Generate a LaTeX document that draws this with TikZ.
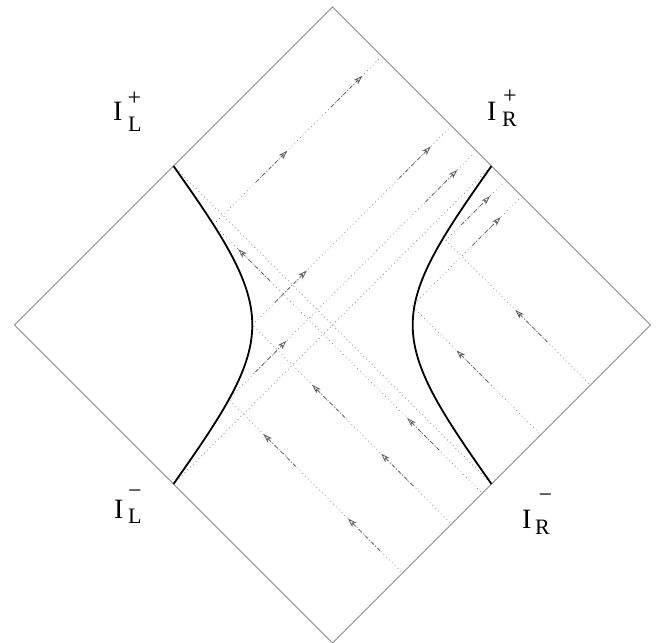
\documentclass[tikz,border=0pt]{standalone}
\usepackage{fontspec}
\setmainfont{Liberation Serif}
\usetikzlibrary{arrows.meta}
\begin{document}
\begin{tikzpicture}[x=1pt,y=1pt,
  frame/.style={draw=black!45, line width=0.9pt},
  world/.style={draw=black, line width=1.8pt},
  ray/.style={draw=black!50, line width=0.75pt, dash pattern=on 0.75pt off 3.2pt},
  arr/.style={draw=black!65, line width=0.75pt, dash pattern=on 4pt off 2pt on 0.75pt off 2pt,
    -{Stealth[open, length=9pt, width=6pt, inset=2.5pt]}},
  big/.style={inner sep=0pt, font=\fontsize{28}{30}\selectfont},
  small/.style={inner sep=0pt, font=\fontsize{22}{24}\selectfont},
  sign/.style={inner sep=0pt, font=\fontsize{24}{26}\selectfont}]
\useasboundingbox (-332.5,-318) rectangle (332.5,325);
\begin{scope}[x={(159pt,-159pt)}, y={(159pt,159pt)}]
  % diamond (s,t null coordinates)
  \coordinate (top) at (-1,1);
  \coordinate (right) at (1,1);
  \coordinate (bottom) at (1,-1);
  \coordinate (left) at (-1,-1);
  \draw[frame] (top) -- (right) -- (bottom) -- (left) -- cycle;
  % horizons
  \coordinate (hL1) at (-1,0); \coordinate (hL2) at (1,0);
  \coordinate (hS1) at (0,-1); \coordinate (hS2) at (0,1);
  \draw[ray] (hL1) -- (hL2);
  \draw[ray] (hS1) -- (hS2);
  % reflection points on the worldlines
  \coordinate (P1) at (-0.69,-0.058);
  \coordinate (P2) at (-0.252,-0.252);
  \coordinate (P3) at (-0.095,-0.56);
  \coordinate (P4) at (0.19,0.31);
  \coordinate (P5) at (0.09,0.622);
  % outgoing (up-right) rays
  \coordinate (A1) at (-0.69,0.985);
  \coordinate (B1) at (-0.252,0.985);
  \coordinate (C1) at (-0.095,0.985);
  \coordinate (E1) at (0.09,0.985);
  \coordinate (F1) at (0.19,0.985);
  \draw[ray] (P1) -- (A1);
  \draw[ray] (P2) -- (B1);
  \draw[ray] (P3) -- (C1);
  \draw[ray] (P5) -- (E1);
  \draw[ray] (P4) -- (F1);
  % incoming (up-left) rays
  \coordinate (a0) at (0.99,-0.56);
  \coordinate (b0) at (0.99,-0.252);
  \coordinate (c0) at (0.99,-0.058);
  \coordinate (d0) at (0.99,0.31);
  \coordinate (e0) at (0.99,0.622);
  \draw[ray] (a0) -- (P3);
  \draw[ray] (b0) -- (P2);
  \draw[ray] (c0) -- (P1);
  \draw[ray] (d0) -- (P4);
  \draw[ray] (e0) -- (P5);
  % arrows on up-right rays
  \draw[arr] (-0.69,0.21) -- (-0.69,0.405);
  \draw[arr] (-0.69,0.68) -- (-0.69,0.877);
  \draw[arr] (-0.252,-0.11) -- (-0.252,0.09);
  \draw[arr] (-0.252,0.67) -- (-0.252,0.87);
  \draw[arr] (-0.095,-0.39) -- (-0.095,-0.195);
  \draw[arr] (-0.095,0.68) -- (-0.095,0.88);
  \draw[arr] (0.09,0.72) -- (0.09,0.90);
  \draw[arr] (0.19,0.69) -- (0.19,0.868);
  % arrows on up-left rays
  \draw[arr] (0.86,-0.56) -- (0.658,-0.56);
  \draw[arr] (0.33,-0.56) -- (0.126,-0.56);
  \draw[arr] (0.76,-0.252) -- (0.558,-0.252);
  \draw[arr] (0.33,-0.252) -- (0.125,-0.252);
  \draw[arr] (0.73,-0.058) -- (0.528,-0.058);
  \draw[arr] (-0.335,-0.058) -- (-0.535,-0.058);
  \draw[arr] (0.67,0.31) -- (0.47,0.31);
  \draw[arr] (0.73,0.622) -- (0.528,0.622);
  % worldlines
  \draw[world] plot[domain=-8:8, samples=241, variable=\w, smooth]
    ({-atan(0.4183*exp(\w))/90}, {-atan(0.4183*exp(-\w))/90});
  \draw[world] plot[domain=-8:8, samples=241, variable=\w, smooth]
    ({atan(0.4183*exp(\w))/90}, {atan(0.4183*exp(-\w))/90});
\end{scope}
% labels
\node[big, anchor=base west] (ILp) at (-219.5,204) {I};
\node[small, anchor=base west] (ILpsub) at (-204.5,193) {L};
\node[sign, anchor=base] (ILpsup) at (-198,219) {+};
\node[big, anchor=base west] (IRp) at (154.5,204) {I};
\node[small, anchor=base west] (IRpsub) at (169.5,198) {R};
\node[sign, anchor=base] (IRpsup) at (177.5,221) {+};
\node[big, anchor=base west] (ILm) at (-218.5,-193) {I};
\node[small, anchor=base west] (ILmsub) at (-204.5,-198) {L};
\node[sign, anchor=base] (ILmsup) at (-197.5,-173.5) {−};
\node[big, anchor=base west] (IRm) at (189.5,-203) {I};
\node[small, anchor=base west] (IRmsub) at (202.5,-209) {R};
\node[sign, anchor=base] (IRmsup) at (213,-177.5) {−};
\end{tikzpicture}
\end{document}
